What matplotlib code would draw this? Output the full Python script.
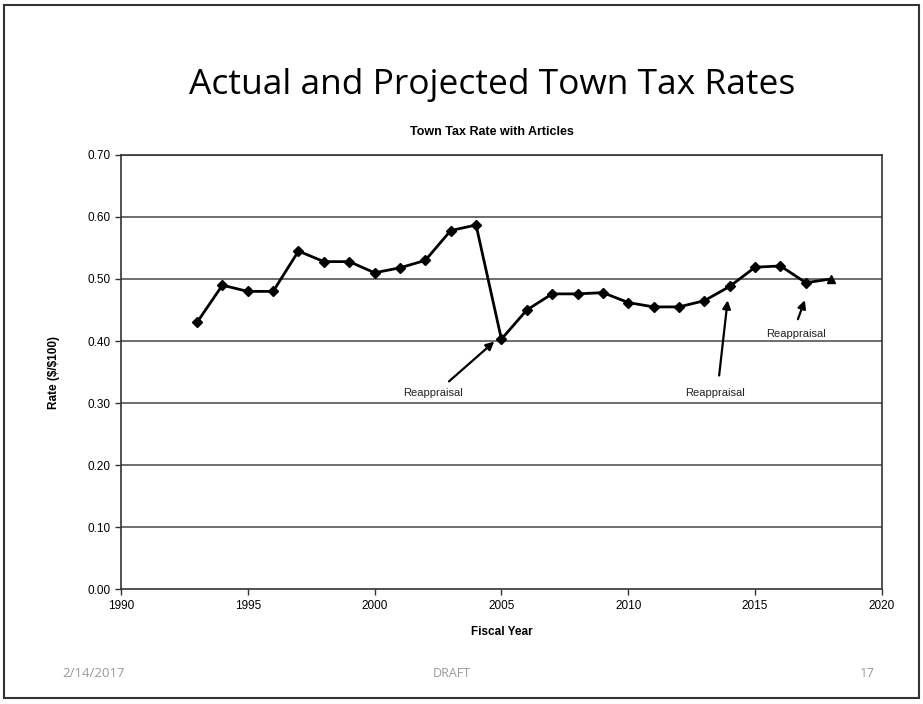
import matplotlib.pyplot as plt
from matplotlib.patches import Rectangle

years = list(range(1993, 2018))
rates = [0.430, 0.490, 0.480, 0.480, 0.545, 0.528, 0.528, 0.510, 0.518, 0.530,
         0.578, 0.587, 0.403, 0.450, 0.476, 0.476, 0.478, 0.462, 0.455, 0.455,
         0.465, 0.488, 0.519, 0.521, 0.494]
proj_years = [2017, 2018]
proj_rates = [0.494, 0.500]

# (text, text x, text y, arrow start x, arrow start y, arrow tip x, arrow tip y)
notes = [
    ("Reappraisal", 2002.3, 0.316, 2002.85, 0.332, 2004.8, 0.402),
    ("Reappraisal", 2013.4, 0.316, 2013.57, 0.340, 2013.93, 0.470),
    ("Reappraisal", 2016.6, 0.411, 2016.65, 0.431, 2017.0, 0.470),
]

fig = plt.figure(figsize=(9.23, 7.04), dpi=100)
fig.patches.append(Rectangle((0.004, 0.008), 0.992, 0.985, transform=fig.transFigure,
                             fill=False, edgecolor="#333333", linewidth=1.5))

ax = fig.add_axes([0.131, 0.163, 0.8245, 0.617])
for y in [0.1, 0.2, 0.3, 0.4, 0.5, 0.6, 0.7]:
    ax.axhline(y, color="#555555", linewidth=1.2, zorder=1)

ax.plot(proj_years, proj_rates, color="black", linewidth=2, zorder=3)
ax.plot([2018], [0.500], marker="^", color="black", markersize=6, zorder=4)
ax.plot(years, rates, color="black", linewidth=2, marker="D", markersize=5, zorder=4)

for text, tx, ty, ax0, ay0, ax1, ay1 in notes:
    ax.text(tx, ty, text, ha="center", va="center", fontsize=8,
            family="Liberation Sans", color="#222222")
    ax.annotate("", xy=(ax1, ay1), xytext=(ax0, ay0),
                arrowprops=dict(arrowstyle="-|>", color="black", lw=1.6,
                                mutation_scale=12))

ax.set_xlim(1990, 2020)
ax.set_ylim(0, 0.70)
ax.set_xticks(range(1990, 2021, 5))
ax.set_yticks([i / 10 for i in range(8)])
ax.set_yticklabels([f"{i / 10:.2f}" for i in range(8)])
for lbl in ax.get_xticklabels() + ax.get_yticklabels():
    lbl.set_family("Liberation Sans")
    lbl.set_fontsize(8.5)
ax.tick_params(direction="out", length=4, width=1, color="#333333")
for s in ax.spines.values():
    s.set_color("#333333")
    s.set_linewidth(1.2)

ax.set_xlabel("Fiscal Year", fontsize=8.5, fontweight="bold", family="Liberation Sans", labelpad=10)
ax.set_ylabel("Rate (\\$/\\$100)", fontsize=8.5, fontweight="bold", family="Liberation Sans", labelpad=20)

fig.text(0.533, 0.879, "Actual and Projected Town Tax Rates", ha="center", va="center",
         fontsize=25.5, family="Open Sans", color="black")
fig.text(0.533, 0.812, "Town Tax Rate with Articles", ha="center", va="center",
         fontsize=9, fontweight="bold", family="Liberation Sans")

fig.text(0.067, 0.044, "2/14/2017", ha="left", va="center", fontsize=9.5, color="#999999", family="Open Sans")
fig.text(0.49, 0.044, "DRAFT", ha="center", va="center", fontsize=9, color="#999999", family="Open Sans")
fig.text(0.940, 0.044, "17", ha="center", va="center", fontsize=9.5, color="#999999", family="Open Sans")

fig.savefig("out.png", dpi=100)
